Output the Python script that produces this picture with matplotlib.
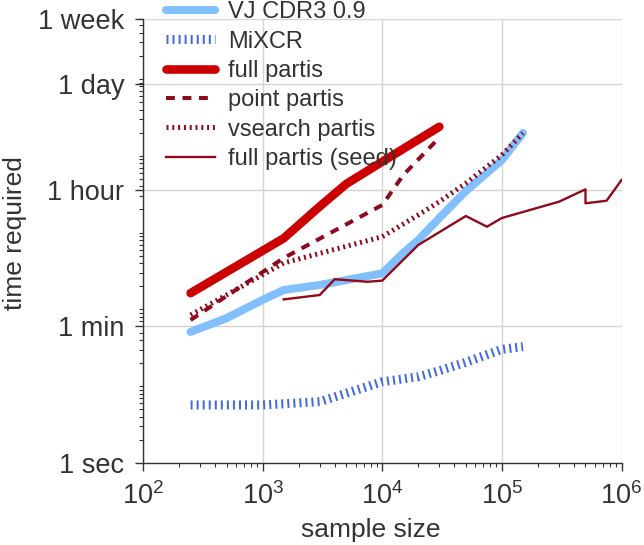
import numpy as np
import matplotlib
matplotlib.use("Agg")
import matplotlib.pyplot as plt
from matplotlib.ticker import LogLocator, NullFormatter

plt.rcParams['font.family'] = ['Liberation Sans', 'DejaVu Sans']
plt.rcParams['mathtext.fontset'] = 'custom'
plt.rcParams['mathtext.rm'] = 'Liberation Sans'
plt.rcParams['mathtext.it'] = 'Liberation Sans:italic'
plt.rcParams['mathtext.bf'] = 'Liberation Sans:bold'
plt.rcParams['text.color'] = '#333333'
plt.rcParams['axes.labelcolor'] = '#333333'

# time required (seconds) vs sample size
vj_x = [250, 500, 1000, 1500, 3000, 5000, 10000, 15000, 20000, 30000, 50000, 100000, 150000]
vj_t = [51, 77, 133, 179, 208, 241, 295, 543, 801, 1550, 3480, 8820, 19800]

mixcr_x = [250, 500, 1000, 1500, 3000, 5000, 10000, 20000, 30000, 50000, 100000, 150000]
mixcr_t = [5.7, 5.7, 5.7, 5.9, 6.3, 8.1, 11.4, 13.3, 15.9, 20.5, 30.2, 32.7]

full_x = [250, 1500, 3000, 5000, 10000, 30000]
full_t = [163, 843, 2190, 4300, 8380, 23900]

point_x = [250, 1500, 10000, 15000, 30000]
point_t = [72.8, 467, 2288, 5620, 17300]

vsearch_x = [250, 1500, 10000, 20000, 30000, 50000, 100000, 150000]
vsearch_t = [84.6, 402, 885, 1695, 2525, 4390, 10240, 19800]

seed_x = [1500, 3000, 4000, 5000, 7500, 10000, 20000, 50000, 75000, 100000,
          300000, 500000, 500000, 750000, 1000000]
seed_t = [135, 154, 247, 241, 229, 237, 690, 1645, 1194, 1550,
          2525, 3660, 2410, 2600, 4840]

ytick_vals = [1, 60, 3600, 86400, 604800]
ytick_labels = ['1 sec', '1 min', '1 hour', '1 day', '1 week']

dark_red = '#8f0a1c'

fig = plt.figure(figsize=(6.44, 5.45), dpi=100)
ax = fig.add_axes([143 / 644, 82 / 545, 478.5 / 644, 444 / 545])

ax.plot(vj_x, vj_t, color='#82bfff', lw=5.8, solid_capstyle='round', label='VJ CDR3 0.9')
ax.plot(mixcr_x, mixcr_t, color='#4169e1', lw=6.5, linestyle=(0, (0.22, 0.45)),
        dash_capstyle='butt', label='MiXCR')
ax.plot(full_x, full_t, color='#cc0000', lw=6.2, solid_capstyle='round', label='full partis')
ax.plot(point_x, point_t, color=dark_red, lw=2.9, linestyle=(0, (2.2, 1.9)),
        dash_capstyle='butt', label='point partis')
ax.plot(vsearch_x, vsearch_t, color=dark_red, lw=3.6, linestyle=(0, (0.4, 0.76)),
        dash_capstyle='butt', label='vsearch partis')
ax.plot(seed_x, seed_t, color=dark_red, lw=1.7, label='full partis (seed)')

ax.set_xscale('log')
ax.set_yscale('log')
ax.set_xlim(1e2, 1e6)
ax.set_ylim(1, 604800)

ax.set_xticks([1e2, 1e3, 1e4, 1e5, 1e6])
ax.set_yticks(ytick_vals)
ax.set_yticklabels(ytick_labels)
ax.yaxis.set_minor_locator(LogLocator(base=10, subs=np.arange(1, 10), numticks=20))
ax.yaxis.set_minor_formatter(NullFormatter())

ax.grid(True, which='major', color='#d4d4d4', lw=1.0)
ax.set_axisbelow(True)
for s in ['top', 'right']:
    ax.spines[s].set_visible(False)
for s in ['left', 'bottom']:
    ax.spines[s].set_color('#333333')
    ax.spines[s].set_linewidth(1.0)

ax.tick_params(which='major', direction='out', length=5.5, width=1, color='#333333',
               labelsize=19.5, labelcolor='#333333', pad=8)
ax.tick_params(which='minor', direction='out', length=3, width=0.8, color='#333333')

ax.set_xlabel('sample size', fontsize=19, va='center')
ax.xaxis.set_label_coords(0.4765, -0.151)
ax.set_ylabel('time required', fontsize=19, va='center')
ax.yaxis.set_label_coords(-0.2675, 0.518)

ax.legend(loc='upper left', bbox_to_anchor=(0.048, 1.04), frameon=False, fontsize=17,
          borderpad=0, borderaxespad=0, handlelength=2.08, handletextpad=0.55,
          labelspacing=0.31)

fig.savefig('out.png', dpi=100)
